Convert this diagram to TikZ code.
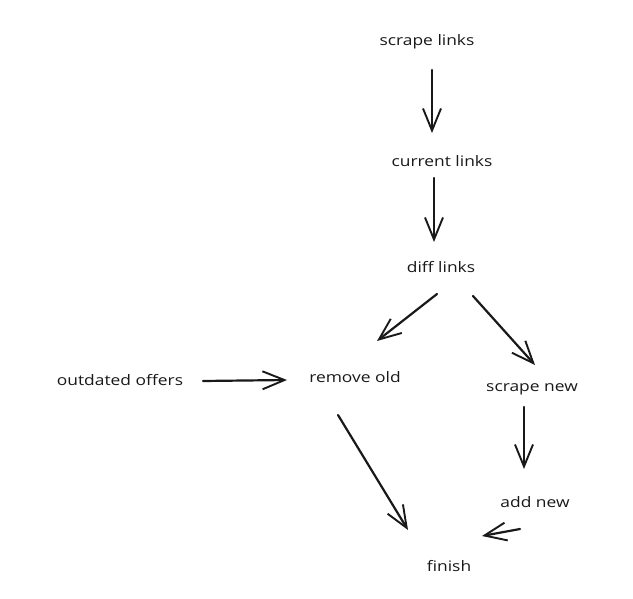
\documentclass[tikz,border=0pt]{standalone}
\usepackage{fontspec}
\setmainfont{Open Sans}[FakeStretch=1.2]
\usetikzlibrary{arrows.meta,calc}
\begin{document}
\begin{tikzpicture}[x=1pt,y=-1pt,
  lbl/.style={inner sep=0pt,font=\fontsize{14.5}{16}\selectfont,text=black!90},
  arr/.style={line width=2.2pt,draw=black!90,line cap=round,-{Straight Barb[length=22pt,width=18pt,line width=1.9pt]}}]
\useasboundingbox (0,0) rectangle (633,599);
\node[lbl] (sl) at (427,42) {scrape links};
\node[lbl] (cl) at (442,161) {current links};
\node[lbl] (dl) at (441,267) {diff links};
\node[lbl] (oo) at (120,380) {outdated offers};
\node[lbl] (ro) at (355,377) {remove old};
\node[lbl] (sn) at (532,389) {scrape new};
\node[lbl] (an) at (535,502) {add new};
\node[lbl] (fi) at (449,566) {finish};
\draw[arr] ($(sl)+(5,28)$) -- ($(cl)+(-10,-28)$);
\draw[arr] ($(cl)+(-8,17)$) -- ($(dl)+(-7,-25)$);
\draw[arr] ($(dl)+(-4,27)$) -- ($(ro)+(22,-36)$);
\draw[arr] ($(dl)+(32,29)$) -- ($(sn)+(3,-24)$);
\draw[arr] ($(oo)+(83,1)$) -- ($(ro)+(-68,3)$);
\draw[arr] ($(ro)+(-17,38)$) -- ($(fi)+(-41,-36)$);
\draw[arr] ($(sn)+(-8,18)$) -- ($(an)+(-11,-33)$);
\draw[arr] ($(an)+(-15,27)$) -- ($(fi)+(33,-30)$);
\end{tikzpicture}
\end{document}
